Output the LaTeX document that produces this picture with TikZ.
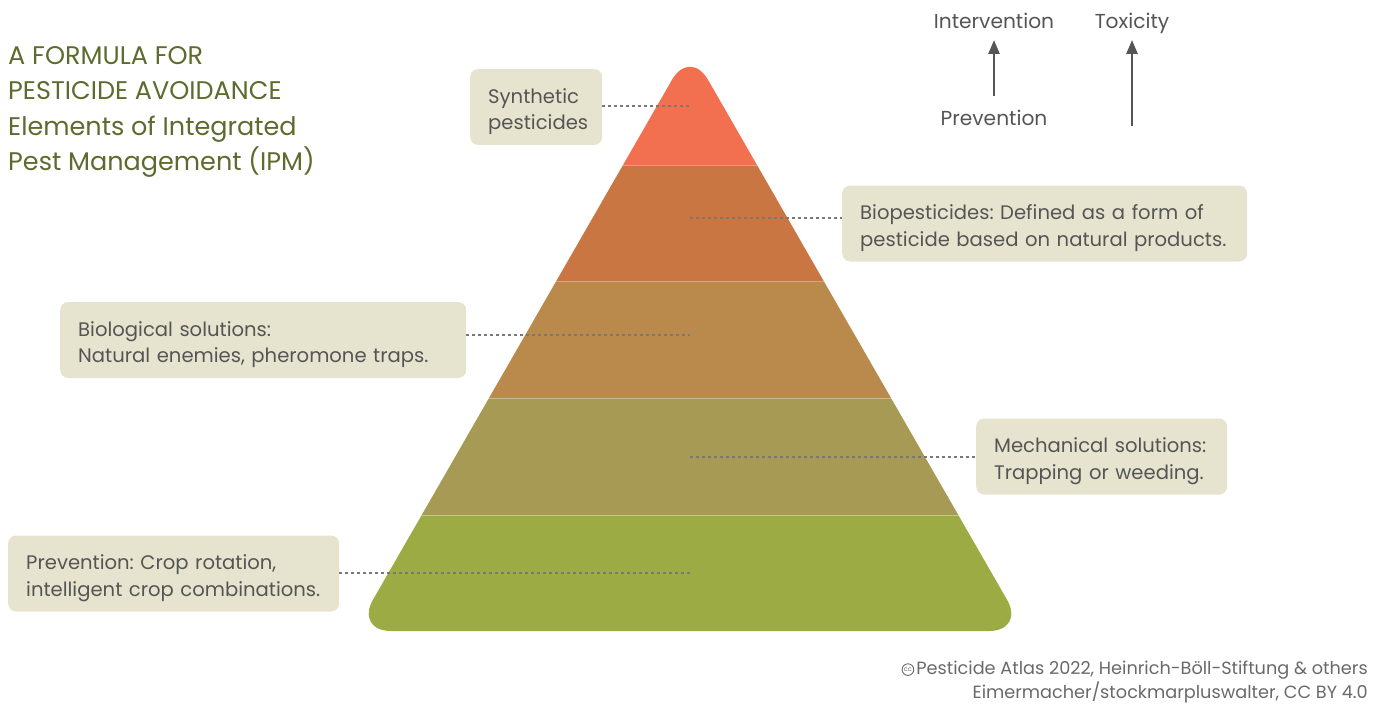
\documentclass[tikz,border=0pt]{standalone}
\usepackage{fontspec}
\setmainfont{Poppins}
\frenchspacing
\usetikzlibrary{positioning,arrows.meta}

% Colours of the layers
\definecolor{synthcol}{RGB}{242,112,79}
\definecolor{biopcol}{RGB}{201,118,67}
\definecolor{biolcol}{RGB}{185,138,75}
\definecolor{mechcol}{RGB}{166,154,84}
\definecolor{prevcol}{RGB}{156,171,67}
% Other colours
\definecolor{boxfill}{RGB}{230,228,207}
\definecolor{boxtext}{RGB}{85,85,85}
\definecolor{titlecol}{RGB}{94,107,46}
\definecolor{leadcol}{RGB}{120,120,120}
\definecolor{creditcol}{RGB}{105,105,105}

\tikzset{
  infobox/.style={fill=boxfill, rounded corners=8pt, text=boxtext, align=left,
    anchor=west, inner xsep=18pt, minimum height=76pt,
    font=\fontsize{19.6}{26.5}\selectfont,
    execute at begin node={\rule{0pt}{24pt}}},
  leader/.style={draw=leadcol, line width=1.4pt, dash pattern=on 3pt off 3pt},
  scalelabel/.style={text=boxtext, anchor=base, font=\fontsize{20.2}{24}\selectfont},
  scalearrow/.style={draw=boxtext, line width=2.5pt, -{Triangle[length=14pt,width=11pt]}},
  layersep/.style={draw=white, opacity=0.35, line width=1pt},
  credit/.style={anchor=base east, text=creditcol, inner sep=0pt, font=\fontsize{17.7}{20}\selectfont},
}

\begin{document}
\begin{tikzpicture}[x=1pt, y=-1pt]

    \useasboundingbox (0,0) rectangle (1384,706);

    %% Pyramid of IPM elements

    % Layers
    \begin{scope}
        \clip[rounded corners=36pt] (690,48.5) -- (1025,631) -- (355,631) -- cycle;
        \fill[synthcol] (340,0) rectangle (1040,165);
        \fill[biopcol] (340,165) rectangle (1040,281.5);
        \fill[biolcol] (340,281.5) rectangle (1040,398);
        \fill[mechcol] (340,398) rectangle (1040,515);
        \fill[prevcol] (340,515) rectangle (1040,640);
        \foreach \y in {165,281.5,398,515}
            \draw[layersep] (340,\y) -- (1040,\y);
    \end{scope}

    % Ends of the leaders inside the pyramid
    \coordinate (synthpt) at (690,106);
    \coordinate (bioppt) at (690,218);
    \coordinate (biolpt) at (690,335);
    \coordinate (mechpt) at (690,457);
    \coordinate (prevpt) at (693,573);

    % Boxes
    \node[infobox, text width=96pt] (synth) at (470,107) {Synthetic\\pesticides};
    \node[infobox, text width=369pt] (biop) at (842,223.5)
        {Biopesticides: Defined as a form of\\pesticide based on natural products.};
    \node[infobox, text width=370pt] (biol) at (60,340)
        {Biological solutions:\\Natural enemies, pheromone traps.};
    \node[infobox, text width=215pt] (mech) at (976,456.5)
        {Mechanical solutions:\\Trapping or weeding.};
    \node[infobox, text width=295pt] (prev) at (8,573.5)
        {Prevention: Crop rotation,\\intelligent crop combinations.};

    % Leaders
    \draw[leader] (synthpt -| synth.east) -- (synthpt);
    \draw[leader] (bioppt) -- (bioppt -| biop.west);
    \draw[leader] (biolpt -| biol.east) -- (biolpt);
    \draw[leader] (mechpt) -- (mechpt -| mech.west);
    \draw[leader] (prevpt -| prev.east) -- (prevpt);

    % Title
    \node[anchor=north west, align=left, text=titlecol, inner sep=0pt,
          font=\fontsize{25.5}{35.5}\selectfont] (title) at (8,46)
        {A FORMULA FOR\\PESTICIDE AVOIDANCE\\Elements of Integrated\\Pest Management (IPM)};

    % Scales
    \node[scalelabel] (interv) at (994,29) {Intervention};
    \node[scalelabel] (prevlab) at (994,126) {Prevention};
    \node[scalelabel] (toxic) at (1132,29) {Toxicity};
    \coordinate (toxbase) at (1132,126);
    \coordinate (intervtip) at (994,40);
    \coordinate (toxtip) at (1132,40);
    \draw[scalearrow] (prevlab.north |- 0,96) -- (intervtip);
    \draw[scalearrow] (toxbase) -- (toxtip);

    % Credits
    \node[credit] (credit1) at (1368,674) {Pesticide Atlas 2022, Heinrich-Böll-Stiftung \& others};
    \node[credit] (credit2) at (1368,698) {Eimermacher/stockmarpluswalter, CC BY 4.0};
    \node[circle, draw=creditcol, line width=0.9pt, inner sep=1.1pt, text=creditcol,
          font=\fontsize{6.5}{6.5}\selectfont, left=2pt of credit1.west] (ccmark) {cc};

\end{tikzpicture}
\end{document}
